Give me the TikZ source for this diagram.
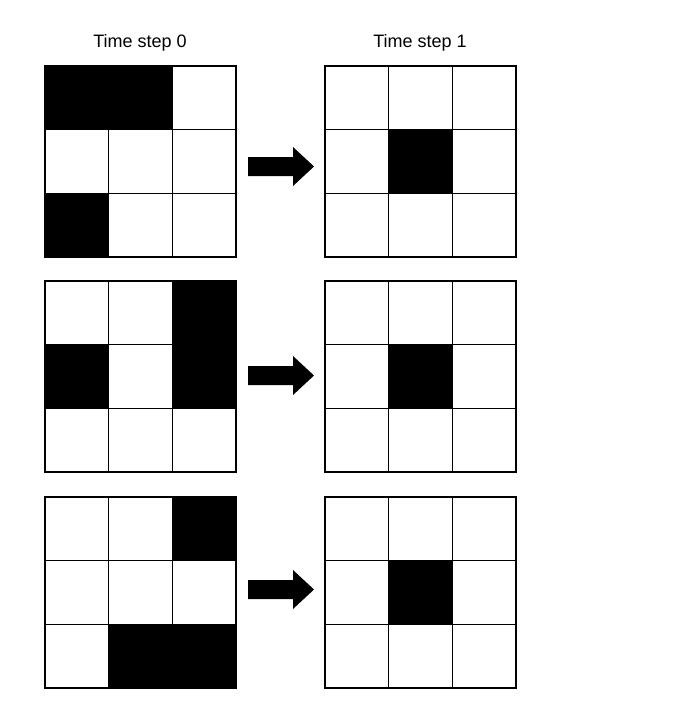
\documentclass[tikz,border=0pt]{standalone}
\usepackage{fontspec}
\setmainfont{Liberation Sans}
\begin{document}
\begin{tikzpicture}[x=1pt,y=-1pt,
  gridline/.style={line width=1.3pt,draw=black},
  label/.style={font=\fontsize{18}{20}\selectfont,anchor=center,inner sep=0pt},
  fatarrow/.style={fill=black,draw=none}]
\useasboundingbox (0,0) rectangle (695,712);
\fill[white] (0,0) rectangle (695,712);
\def\cs{63.67}
% \gridat{x}{y}{list of black cells row/col}
\newcommand\gridat[3]{%
  \foreach \r/\c in {#3} {\fill[black] ({#1+\c*\cs},{#2+\r*\cs}) rectangle ++(\cs,\cs);}
  \draw[gridline] (#1,#2) rectangle ++(191,191);
  \foreach \i in {1,2} {
    \draw[gridline] ({#1+\i*\cs},#2) -- ++(0,191);
    \draw[gridline] (#1,{#2+\i*\cs}) -- ++(191,0);
  }}
\newcommand\arrowat[2]{%
  \fill[fatarrow] (#1,{#2-10}) -- ++(45,0) -- ++(0,-10) -- ++(21,19.5) -- ++(-21,19.5) -- ++(0,-10) -- ++(-45,0) -- cycle;}
\node[label] (t0) at (140,43) {Time step 0};
\node[label] (t1) at (420,43) {Time step 1};
\gridat{45}{66}{0/0,0/1,2/0}
\gridat{325}{66}{1/1}
\arrowat{248}{167}
\gridat{45}{281}{0/2,1/2,1/0}
\gridat{325}{281}{1/1}
\arrowat{248}{376}
\gridat{45}{497}{0/2,2/1,2/2}
\gridat{325}{497}{1/1}
\arrowat{248}{590}
\end{tikzpicture}
\end{document}
